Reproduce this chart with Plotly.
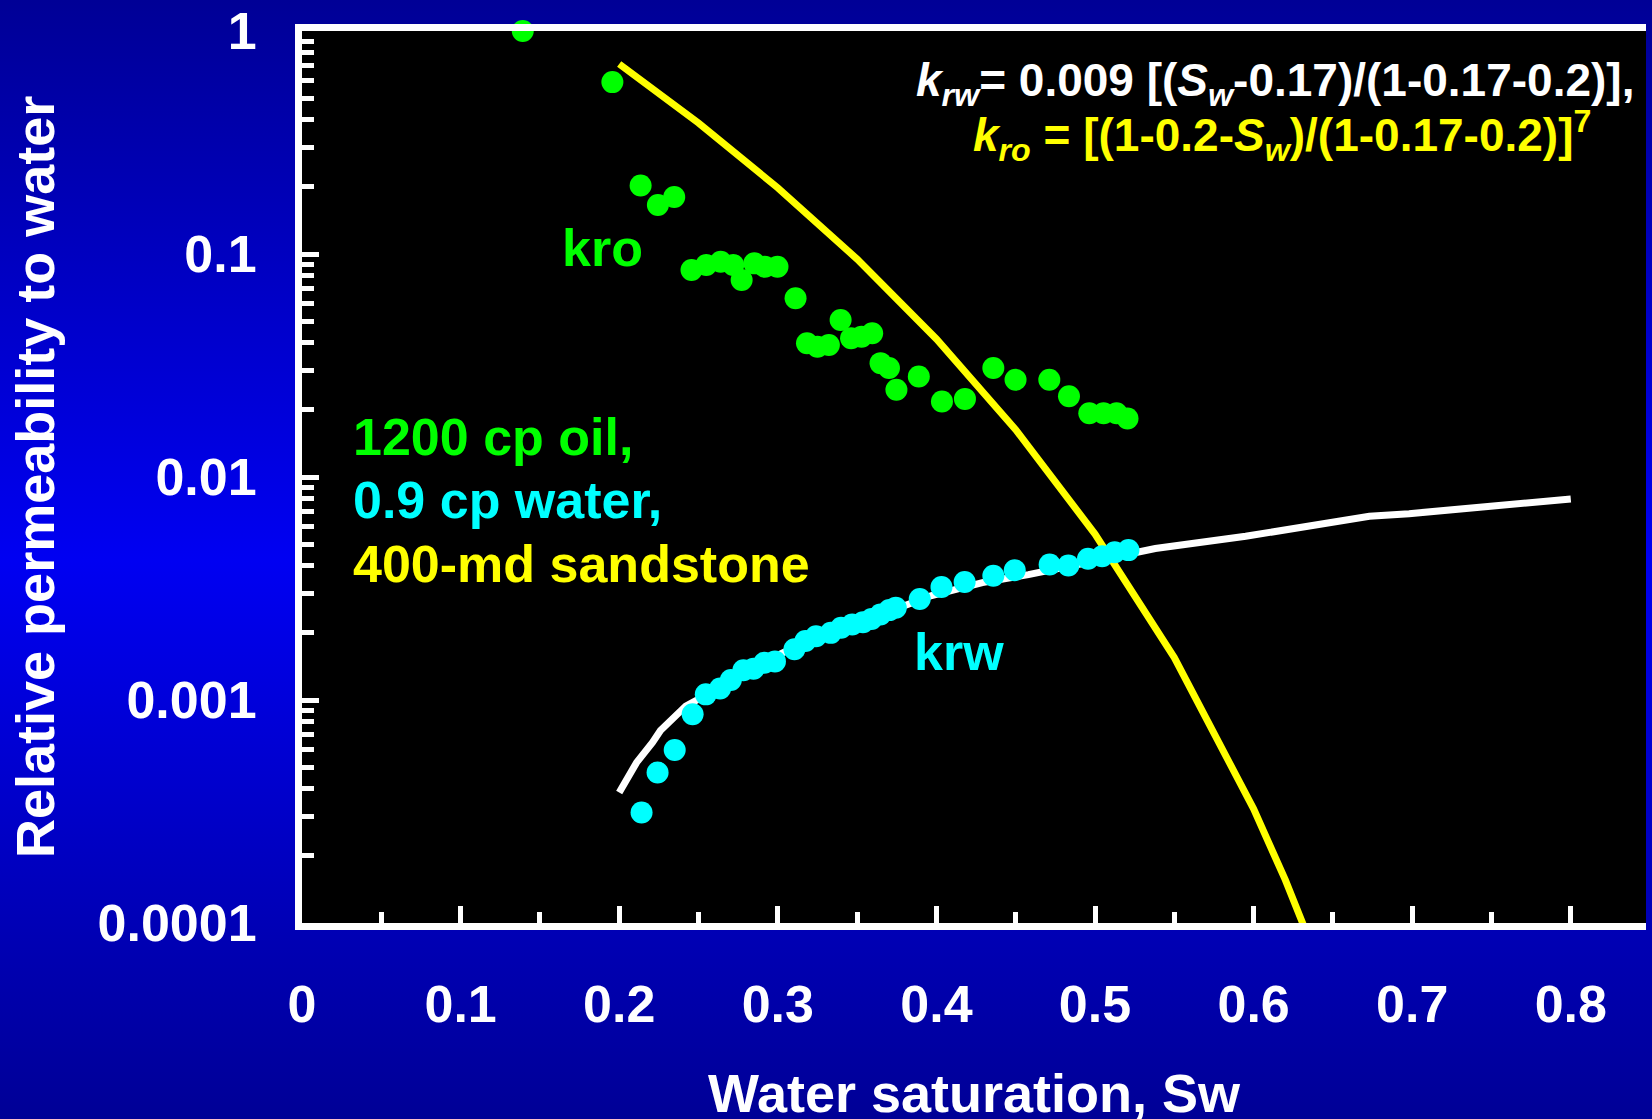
import base64
import plotly.graph_objects as go

# ---------------- data ----------------
kro_sw = [0.1392, 0.1957, 0.2135, 0.2244, 0.2347, 0.2456, 0.2549, 0.2640, 0.2719, 0.2772,
          0.2852, 0.2918, 0.2998, 0.3112, 0.3184, 0.3250, 0.3322, 0.3396, 0.3462, 0.3528,
          0.3595, 0.3648, 0.3701, 0.3748, 0.3889, 0.4035, 0.4180, 0.4359, 0.4499, 0.4712,
          0.4836, 0.4964, 0.5054, 0.5136, 0.5205]
kro_val = [1.0, 0.590, 0.203, 0.166, 0.180, 0.0847, 0.0892, 0.0923, 0.0892, 0.0764,
           0.0908, 0.0877, 0.0877, 0.0633, 0.0398, 0.0384, 0.0391, 0.0506, 0.0419, 0.0426,
           0.0441, 0.0324, 0.0308, 0.0246, 0.0282, 0.0218, 0.0224, 0.0308, 0.0273, 0.0273,
           0.0230, 0.0193, 0.0193, 0.0193, 0.0183]

krw_sw = [0.2141, 0.2242, 0.2350, 0.2463, 0.2546, 0.2636, 0.2704, 0.2783, 0.2847, 0.2915,
          0.2982, 0.3105, 0.3174, 0.3241, 0.3334, 0.3399, 0.3469, 0.3537, 0.3591, 0.3647,
          0.3703, 0.3744, 0.3895, 0.4032, 0.4178, 0.4359, 0.4494, 0.4714, 0.4832, 0.4956,
          0.5045, 0.5124, 0.5211]
krw_val = [3.13e-4, 4.73e-4, 5.97e-4, 8.63e-4, 1.06e-3, 1.125e-3, 1.23e-3, 1.36e-3, 1.38e-3, 1.47e-3,
           1.49e-3, 1.69e-3, 1.84e-3, 1.93e-3, 2.00e-3, 2.11e-3, 2.18e-3, 2.23e-3, 2.31e-3, 2.42e-3,
           2.53e-3, 2.59e-3, 2.84e-3, 3.21e-3, 3.38e-3, 3.61e-3, 3.82e-3, 4.05e-3, 4.01e-3, 4.30e-3,
           4.41e-3, 4.60e-3, 4.70e-3]

krw_fit_sw = [0.200, 0.211, 0.221, 0.226, 0.242, 0.249, 0.270, 0.304, 0.330, 0.360,
              0.397, 0.429, 0.458, 0.500, 0.538, 0.595, 0.673, 0.698, 0.752, 0.800]
krw_fit = [3.85e-4, 5.25e-4, 6.45e-4, 7.3e-4, 9.4e-4, 1.0e-3, 1.25e-3, 1.64e-3, 1.95e-3, 2.35e-3,
           2.94e-3, 3.36e-3, 3.65e-3, 4.2e-3, 4.78e-3, 5.42e-3, 6.67e-3, 6.85e-3, 7.44e-3, 7.97e-3]

kro_fit_sw = [0.200, 0.225, 0.250, 0.300, 0.350, 0.400, 0.450, 0.500, 0.550, 0.600, 0.620, 0.635]
kro_fit = [0.711, 0.528, 0.387, 0.198, 0.0949, 0.0416, 0.0163, 0.00555, 0.00155, 3.25e-4, 1.56e-4, 8.45e-5]

x_tick_vals = [0, 0.1, 0.2, 0.3, 0.4, 0.5, 0.6, 0.7, 0.8]
x_tick_text = ["0", "0.1", "0.2", "0.3", "0.4", "0.5", "0.6", "0.7", "0.8"]
x_minor_vals = [0.05, 0.15, 0.25, 0.35, 0.45, 0.55, 0.65, 0.75]
y_tick_vals = [1e-4, 1e-3, 1e-2, 1e-1, 1]
y_tick_text = ["0.0001", "0.001", "0.01", "0.1", "1"]
y_minor_vals = [m * 10.0 ** e for e in range(-4, 0) for m in range(2, 10)]

# ---------------- styling ----------------
FONT = "Liberation Sans, Arial, sans-serif"
GREEN = "#00ff00"
CYAN = "#00ffff"
YELLOW = "#ffff00"
W, H = 1652, 1119
ML, MR, MT, MB = 302, 6, 31, 196
PW, PH = W - ML - MR, H - MT - MB

svg = (
    "<svg xmlns='http://www.w3.org/2000/svg' width='%d' height='%d' preserveAspectRatio='none'>"
    "<defs><linearGradient id='g' x1='0' y1='0' x2='0' y2='1'>"
    "<stop offset='0' stop-color='#000096'/>"
    "<stop offset='0.5' stop-color='#0000f2'/>"
    "<stop offset='1' stop-color='#000096'/>"
    "</linearGradient></defs>"
    "<rect width='%d' height='%d' fill='url(#g)'/></svg>" % (W, H, W, H)
)
bg_uri = "data:image/svg+xml;base64," + base64.b64encode(svg.encode()).decode()

fig = go.Figure()
fig.add_trace(go.Scatter(x=krw_fit_sw, y=krw_fit, mode="lines",
                         line=dict(color="white", width=7), hoverinfo="skip"))
fig.add_trace(go.Scatter(x=kro_fit_sw, y=kro_fit, mode="lines",
                         line=dict(color=YELLOW, width=7), hoverinfo="skip"))
fig.add_trace(go.Scatter(x=kro_sw, y=kro_val, mode="markers", cliponaxis=False,
                         marker=dict(color=GREEN, size=22, line=dict(width=0))))
fig.add_trace(go.Scatter(x=krw_sw, y=krw_val, mode="markers", cliponaxis=False,
                         marker=dict(color=CYAN, size=22, line=dict(width=0))))

tickfont = dict(family=FONT, size=52, color="white", weight="bold")
fig.update_xaxes(
    range=[0, PW / 1586.0], tickvals=x_tick_vals, ticktext=x_tick_text,
    ticks="inside", ticklen=17, tickwidth=5, tickcolor="white",
    showline=True, linewidth=7, linecolor="white", mirror=True,
    showgrid=False, zeroline=False, tickfont=tickfont, ticklabelstandoff=30,
    minor=dict(tickvals=x_minor_vals, ticks="inside", ticklen=11, tickwidth=5,
               tickcolor="white", showgrid=False),
)
fig.update_yaxes(
    type="log", range=[-4, 0], tickvals=y_tick_vals, ticktext=y_tick_text,
    ticks="inside", ticklen=17, tickwidth=5, tickcolor="white",
    showline=True, linewidth=7, linecolor="white", mirror=False,
    showgrid=False, zeroline=False, tickfont=tickfont, ticklabelstandoff=28,
    minor=dict(tickvals=y_minor_vals, ticks="inside", ticklen=12, tickwidth=5,
               tickcolor="white", showgrid=False),
)

bold = dict(family=FONT, size=52, weight="bold")
annotations = [
    dict(text="Water saturation, Sw", xref="paper", yref="paper", x=0.5, y=0,
         xanchor="center", yanchor="middle", yshift=-170, showarrow=False,
         font=dict(family=FONT, size=54, color="white", weight="bold")),
    dict(text="Relative permeability to water", xref="paper", yref="paper", x=0, y=0.5,
         xanchor="center", yanchor="middle", xshift=-(ML - 35), textangle=-90, showarrow=False,
         font=dict(family=FONT, size=54, color="white", weight="bold")),
    dict(text="kro", x=0.1895, y=-0.971, xanchor="center", yanchor="middle",
         showarrow=False, font=dict(bold, color=GREEN)),
    dict(text="krw", x=0.4141, y=-2.785, xanchor="center", yanchor="middle",
         showarrow=False, font=dict(bold, color=CYAN)),
    dict(text="1200 cp oil,", x=0.0312, y=-1.8206, xanchor="left", yanchor="middle",
         showarrow=False, font=dict(bold, color=GREEN)),
    dict(text="0.9 cp water,", x=0.0312, y=-2.1045, xanchor="left", yanchor="middle",
         showarrow=False, font=dict(bold, color=CYAN)),
    dict(text="400-md sandstone", x=0.0312, y=-2.3888, xanchor="left", yanchor="middle",
         showarrow=False, font=dict(bold, color=YELLOW)),
    dict(text="<i>k<sub>rw</sub></i>= 0.009 [(<i>S<sub>w</sub></i>-0.17)/(1-0.17-0.2)],",
         x=0.6138, y=-0.235, xanchor="center", yanchor="middle", showarrow=False,
         font=dict(family=FONT, size=46, color="white", weight="bold")),
    dict(text="<i>k<sub>ro</sub></i> = [(1-0.2-<i>S<sub>w</sub></i>)/(1-0.17-0.2)]<sup>7</sup>",
         x=0.6182, y=-0.47, xanchor="center", yanchor="middle", showarrow=False,
         font=dict(family=FONT, size=46, color=YELLOW, weight="bold")),
]

fig.update_layout(
    width=W, height=H, margin=dict(l=ML, r=MR, t=MT, b=MB, autoexpand=False),
    paper_bgcolor="#0000c8", plot_bgcolor="black", showlegend=False,
    font=dict(family=FONT, color="white"),
    annotations=annotations,
    images=[dict(source=bg_uri, xref="paper", yref="paper",
                 x=-ML / PW, y=1 + MT / PH, sizex=W / PW, sizey=H / PH,
                 xanchor="left", yanchor="top", sizing="stretch", layer="below")],
    shapes=[dict(type="rect", xref="paper", yref="paper", x0=0, x1=1, y0=0, y1=1,
                 fillcolor="black", line=dict(width=0), layer="below")],
)

fig.write_html("out.html")
